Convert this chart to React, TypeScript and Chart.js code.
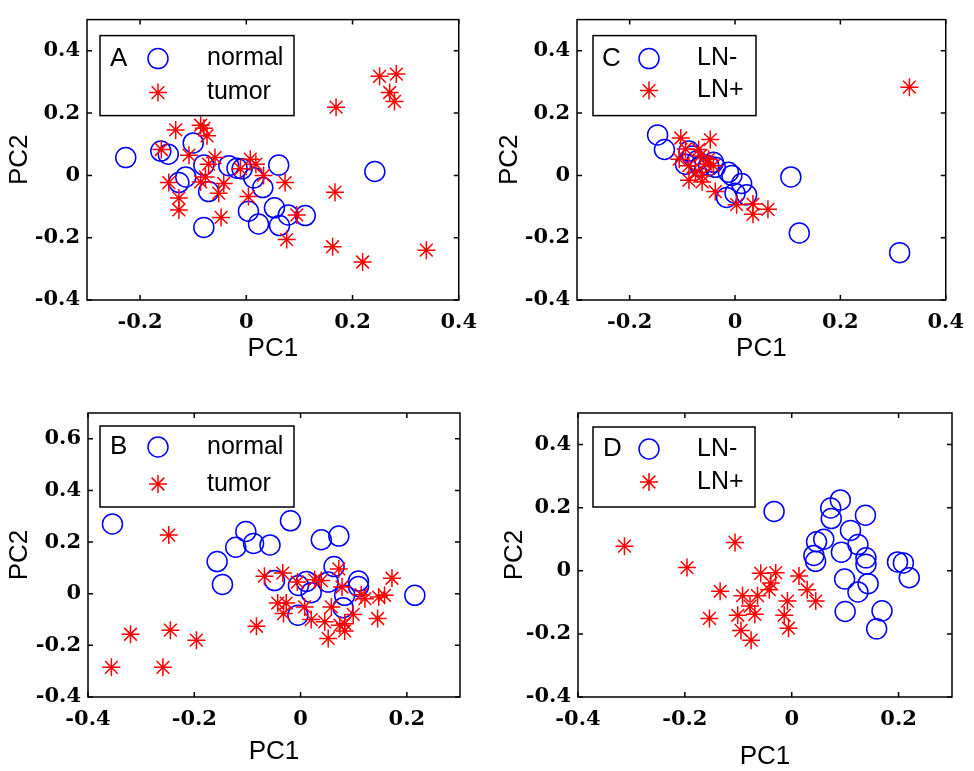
import React, { useEffect, useRef } from "react";
import { Chart, registerables } from "chart.js";
Chart.register(...registerables);

// ---------------- DATA ----------------
const A_normal: number[][] = [
  [-0.227, 0.057], [-0.161, 0.078], [-0.147, 0.068], [-0.1, 0.104], [-0.08, 0.033],
  [-0.114, -0.005], [-0.127, -0.023], [-0.071, -0.052], [-0.08, -0.167], [-0.033, 0.031],
  [-0.0175, 0.023], [-0.008, 0.021], [0.014, -0.008], [0.031, -0.039], [0.061, 0.033],
  [0.004, -0.115], [0.023, -0.156], [0.053, -0.104], [0.0625, -0.161], [0.079, -0.127],
  [0.111, -0.129], [0.242, 0.0125],
];
const A_tumor: number[][] = [
  [0.251, 0.318], [0.2825, 0.325], [0.27, 0.266], [0.279, 0.2375], [0.169, 0.219],
  [-0.133, 0.146], [-0.086, 0.161], [-0.08, 0.151], [-0.074, 0.127], [-0.16, 0.083],
  [-0.108, 0.065], [-0.059, 0.057], [-0.071, 0.036], [0.0075, 0.052], [0.018, 0.036],
  [-0.011, 0.021], [0.0325, 0.0], [-0.146, -0.023], [-0.086, -0.021], [-0.077, -0.005],
  [-0.0425, -0.026], [-0.052, -0.057], [-0.127, -0.073], [-0.127, -0.111], [0.004, -0.068],
  [0.073, -0.023], [0.167, -0.054], [0.095, -0.127], [-0.0475, -0.135], [0.076, -0.206],
  [0.1625, -0.229], [0.219, -0.278], [0.339, -0.24],
];
const C_lnNeg: number[][] = [
  [-0.147, 0.13], [-0.134, 0.083], [-0.0875, 0.078], [-0.094, 0.036], [-0.072, 0.047],
  [-0.066, 0.029], [-0.041, 0.042], [-0.0375, 0.026], [-0.0125, 0.01], [-0.006, 0.0],
  [0.0125, -0.026], [-0.016, -0.071], [0.0, -0.057], [0.022, -0.0625], [0.106, -0.005],
  [0.122, -0.185], [0.3125, -0.248], [-0.05, 0.031], [-0.081, 0.0625],
];
const C_lnPos: number[][] = [
  [0.331, 0.283], [-0.103, 0.12], [-0.047, 0.115], [-0.094, 0.085], [-0.069, 0.083],
  [-0.066, 0.0625], [-0.106, 0.052], [-0.0875, 0.031], [-0.056, 0.036], [-0.041, 0.031],
  [-0.075, 0.01], [-0.0625, 0.0], [-0.0875, -0.016], [-0.0625, -0.021], [-0.0375, -0.052],
  [0.003, -0.094], [0.034, -0.092], [0.034, -0.125], [0.0625, -0.109], [-0.05, 0.052],
];
const B_normal: number[][] = [
  [-0.354, 0.27], [-0.103, 0.241], [-0.019, 0.2825], [-0.122, 0.18], [-0.0885, 0.195],
  [-0.0575, 0.189], [-0.157, 0.1245], [-0.147, 0.036], [0.039, 0.209], [0.072, 0.2235],
  [0.063, 0.105], [-0.049, 0.051], [-0.004, 0.032], [0.011, 0.0475], [0.02, 0.004],
  [0.052, 0.045], [0.109, 0.049], [0.109, 0.028], [0.083, -0.006], [0.08, -0.054],
  [-0.005, -0.083], [0.215, -0.006],
];
const B_tumor: number[][] = [
  [-0.248, 0.227], [-0.068, 0.068], [-0.0335, 0.08], [-0.006, 0.045], [0.0265, 0.054],
  [0.039, 0.051], [0.072, 0.096], [0.078, 0.026], [0.172, 0.06], [-0.043, -0.036],
  [-0.027, -0.036], [-0.032, -0.077], [0.0076, -0.051], [0.058, -0.051], [0.02, -0.1],
  [0.0455, -0.109], [0.052, -0.173], [0.083, -0.116], [0.083, -0.144], [0.099, -0.08],
  [0.121, -0.019], [0.114, -0.004], [0.147, -0.013], [0.158, -0.006], [0.145, -0.096],
  [-0.083, -0.126], [-0.32, -0.157], [-0.245, -0.141], [-0.196, -0.18], [-0.356, -0.285],
  [-0.259, -0.285], [0.074, -0.122],
];
const D_lnNeg: number[][] = [
  [-0.033, 0.188], [0.091, 0.2245], [0.073, 0.199], [0.074, 0.1655], [0.138, 0.176],
  [0.11, 0.128], [0.06, 0.1], [0.0465, 0.092], [0.124, 0.083], [0.093, 0.059],
  [0.0415, 0.0486], [0.0447, 0.03], [0.139, 0.041], [0.139, 0.021], [0.198, 0.028],
  [0.209, 0.025], [0.22, -0.022], [0.099, -0.026], [0.143, -0.041], [0.124, -0.067],
  [0.1, -0.129], [0.169, -0.127], [0.159, -0.184],
];
const D_lnPos: number[][] = [
  [-0.313, 0.078], [-0.106, 0.09], [-0.196, 0.01], [-0.134, -0.065], [-0.154, -0.151],
  [-0.058, -0.008], [-0.03, -0.006], [-0.039, -0.039], [-0.042, -0.06], [-0.064, -0.079],
  [-0.092, -0.079], [-0.078, -0.112], [-0.069, -0.138], [-0.101, -0.141], [-0.095, -0.189],
  [-0.076, -0.22], [-0.008, -0.096], [-0.014, -0.141], [-0.006, -0.182], [0.0136, -0.0166],
  [0.029, -0.06], [0.045, -0.096],
];

const AC_xTicks = [-0.2, 0, 0.2, 0.4];
const AC_yTicks = [-0.4, -0.2, 0, 0.2, 0.4];
const BD_xTicks = [-0.4, -0.2, 0, 0.2];
const B_yTicks = [-0.4, -0.2, 0, 0.2, 0.4, 0.6];
const D_yTicks = [-0.4, -0.2, 0, 0.2, 0.4];

const normalLabels = ["normal", "tumor"];
const lnLabels = ["LN-", "LN+"];

// ---------------- STYLE / LAYOUT ----------------
const BLUE = "#0000ff";
const RED = "#ff0000";
const TICK_FONT = { family: '"DejaVu Serif", "Liberation Serif", serif', size: 21, weight: "bold" as const, lineHeight: 1.2 };
const SANS = '"Liberation Sans", Arial, Helvetica, sans-serif';

interface Panel {
  letter: string;
  labels: string[];
  circles: number[][];
  stars: number[][];
  xTicks: number[];
  yTicks: number[];
  xr: [number, number];
  yr: [number, number];
  box: [number, number, number, number]; // canvas left, top, width, height
  area: [number, number, number, number]; // chartArea l, t, r, b in canvas coords
  xTitlePad: number;
  yTitlePad: number;
  lg: { dx: number; dy: number; w: number; h: number; letterX: number; markX: number; textX: number; r1: number; r2: number };
}

const panels: Panel[] = [
  {
    letter: "A", labels: normalLabels, circles: A_normal, stars: A_tumor,
    xTicks: AC_xTicks, yTicks: AC_yTicks, xr: [-0.3, 0.4], yr: [-0.4, 0.5],
    box: [0, 0, 487, 385], area: [87, 13, 460, 300], xTitlePad: 23, yTitlePad: 7,
    lg: { dx: 13, dy: 16, w: 194, h: 80, letterX: 10, markX: 58, textX: 107, r1: 23, r2: 57 },
  },
  {
    letter: "C", labels: lnLabels, circles: C_lnNeg, stars: C_lnPos,
    xTicks: AC_xTicks, yTicks: AC_yTicks, xr: [-0.3, 0.4], yr: [-0.4, 0.5],
    box: [487, 0, 487, 385], area: [90, 13, 465, 300], xTitlePad: 23, yTitlePad: 10,
    lg: { dx: 16, dy: 16, w: 163, h: 80, letterX: 9, markX: 56, textX: 104, r1: 23, r2: 55 },
  },
  {
    letter: "B", labels: normalLabels, circles: B_normal, stars: B_tumor,
    xTicks: BD_xTicks, yTicks: B_yTicks, xr: [-0.4, 0.3], yr: [-0.4, 0.7],
    box: [0, 385, 487, 386], area: [88, 28, 460, 312], xTitlePad: 6, yTitlePad: 7,
    lg: { dx: 12, dy: 13, w: 194, h: 81, letterX: 10, markX: 58, textX: 107, r1: 21, r2: 58 },
  },
  {
    letter: "D", labels: lnLabels, circles: D_lnNeg, stars: D_lnPos,
    xTicks: BD_xTicks, yTicks: D_yTicks, xr: [-0.4, 0.3], yr: [-0.4, 0.5],
    box: [487, 385, 487, 386], area: [91, 28, 465, 312], xTitlePad: 1, yTitlePad: 15,
    lg: { dx: 15, dy: 14, w: 162, h: 80, letterX: 10, markX: 56, textX: 104, r1: 22, r2: 55 },
  },
];

const fmt = (v: number | string) => {
  const n = Number(v);
  return Math.abs(n) < 1e-9 ? "0" : n.toFixed(1);
};

function drawCircle(ctx: CanvasRenderingContext2D, x: number, y: number) {
  ctx.beginPath();
  ctx.strokeStyle = BLUE;
  ctx.lineWidth = 1.5;
  ctx.arc(x, y, 10, 0, Math.PI * 2);
  ctx.stroke();
}
function drawStar(ctx: CanvasRenderingContext2D, x: number, y: number) {
  const r = 9;
  const d = r * Math.SQRT1_2;
  ctx.beginPath();
  ctx.strokeStyle = RED;
  ctx.lineWidth = 1.5;
  ctx.moveTo(x - r, y); ctx.lineTo(x + r, y);
  ctx.moveTo(x, y - r); ctx.lineTo(x, y + r);
  ctx.moveTo(x - d, y - d); ctx.lineTo(x + d, y + d);
  ctx.moveTo(x - d, y + d); ctx.lineTo(x + d, y - d);
  ctx.stroke();
}

function PanelChart({ p }: { p: Panel }) {
  const ref = useRef<HTMLCanvasElement>(null);
  useEffect(() => {
    if (!ref.current) return;
    const [, , W, H] = p.box;
    const [L, T, R, B] = p.area;
    const frame = {
      id: "frame",
      afterDraw(chart: any) {
        const { ctx, chartArea: ca, scales } = chart;
        ctx.save();
        ctx.strokeStyle = "#000";
        ctx.lineWidth = 1.5;
        ctx.strokeRect(ca.left, ca.top, ca.right - ca.left, ca.bottom - ca.top);
        const tl = 5;
        ctx.beginPath();
        for (const v of p.xTicks) {
          const px = scales.x.getPixelForValue(v);
          ctx.moveTo(px, ca.bottom); ctx.lineTo(px, ca.bottom - tl);
          ctx.moveTo(px, ca.top); ctx.lineTo(px, ca.top + tl);
        }
        for (const v of p.yTicks) {
          const py = scales.y.getPixelForValue(v);
          ctx.moveTo(ca.left, py); ctx.lineTo(ca.left + tl, py);
          ctx.moveTo(ca.right, py); ctx.lineTo(ca.right - tl, py);
        }
        ctx.stroke();
        // legend
        const lx = ca.left + p.lg.dx;
        const ly = ca.top + p.lg.dy;
        ctx.fillStyle = "#fff";
        ctx.fillRect(lx, ly, p.lg.w, p.lg.h);
        ctx.lineWidth = 1.5;
        ctx.strokeStyle = "#000";
        ctx.strokeRect(lx, ly, p.lg.w, p.lg.h);
        ctx.fillStyle = "#000";
        ctx.textBaseline = "middle";
        ctx.textAlign = "left";
        ctx.font = `26px ${SANS}`;
        ctx.fillText(p.letter, lx + p.lg.letterX, ly + p.lg.r1);
        ctx.font = `25px ${SANS}`;
        ctx.fillText(p.labels[0], lx + p.lg.textX, ly + p.lg.r1);
        ctx.fillText(p.labels[1], lx + p.lg.textX, ly + p.lg.r2);
        drawCircle(ctx, lx + p.lg.markX, ly + p.lg.r1);
        drawStar(ctx, lx + p.lg.markX, ly + p.lg.r2);
        ctx.restore();
      },
    };
    const chart = new Chart(ref.current, {
      type: "scatter",
      data: {
        datasets: [
          {
            label: p.labels[1],
            data: p.stars.map(([x, y]) => ({ x, y })),
            pointStyle: "star",
            pointRadius: 9,
            borderColor: RED,
            backgroundColor: RED,
            borderWidth: 1.5,
            pointBorderWidth: 1.5,
          },
          {
            label: p.labels[0],
            data: p.circles.map(([x, y]) => ({ x, y })),
            pointStyle: "circle",
            pointRadius: 10,
            borderColor: BLUE,
            backgroundColor: "rgba(0,0,0,0)",
            borderWidth: 1.5,
            pointBorderWidth: 1.5,
          },
        ],
      },
      options: {
        responsive: false,
        animation: false,
        devicePixelRatio: 1,
        events: [],
        layout: { padding: { left: 0, top: T, right: W - R, bottom: 0 } },
        plugins: { legend: { display: false }, tooltip: { enabled: false } },
        scales: {
          x: {
            type: "linear",
            min: p.xr[0],
            max: p.xr[1],
            grid: { display: false, drawTicks: false, tickLength: 0 },
            border: { display: false },
            afterBuildTicks: (s: any) => { s.ticks = p.xTicks.map((v) => ({ value: v })); },
            afterFit: (s: any) => { s.height = H - B; },
            ticks: { font: TICK_FONT, color: "#000", padding: 10, callback: fmt, maxRotation: 0, autoSkip: false },
            title: {
              display: true, text: "PC1", color: "#000",
              font: { family: SANS, size: 26, lineHeight: 1 },
              padding: { top: 0, bottom: p.xTitlePad },
            },
          },
          y: {
            type: "linear",
            min: p.yr[0],
            max: p.yr[1],
            grid: { display: false, drawTicks: false, tickLength: 0 },
            border: { display: false },
            afterBuildTicks: (s: any) => { s.ticks = p.yTicks.map((v) => ({ value: v })); },
            afterFit: (s: any) => { s.width = L; },
            ticks: { font: TICK_FONT, color: "#000", padding: 7, callback: fmt, autoSkip: false },
            title: {
              display: true, text: "PC2", color: "#000",
              font: { family: SANS, size: 26, lineHeight: 1 },
              padding: { top: p.yTitlePad, bottom: 0 },
            },
          },
        },
      } as any,
      plugins: [frame],
    });
    return () => chart.destroy();
  }, [p]);
  const [left, top, w, h] = p.box;
  return (
    <canvas
      ref={ref}
      width={w}
      height={h}
      style={{ position: "absolute", left, top, width: w, height: h }}
    />
  );
}

export default function App() {
  return (
    <div style={{ position: "absolute", left: 0, top: 0, width: 974, height: 771, background: "#fff" }}>
      {panels.map((p) => (
        <PanelChart key={p.letter} p={p} />
      ))}
    </div>
  );
}
